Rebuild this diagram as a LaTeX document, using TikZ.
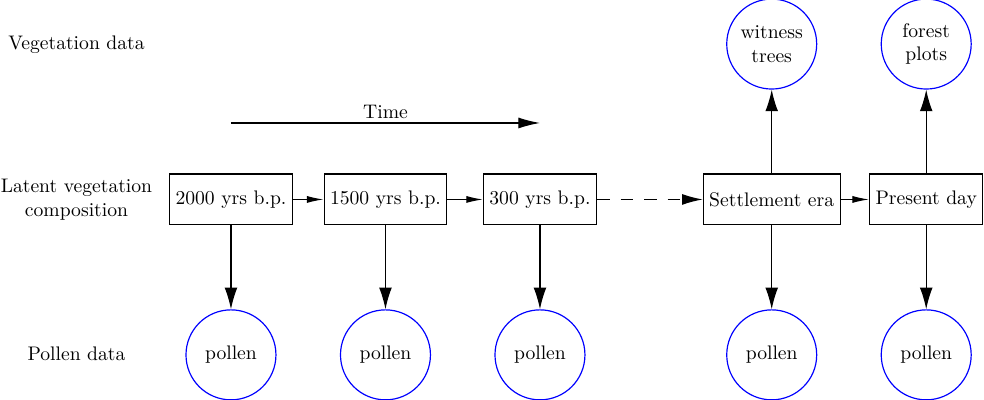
\documentclass[tikz,border=0pt]{standalone}
\usepackage{amsmath,amssymb}
\usepackage{xcolor}
\usepackage{tikz}
\usetikzlibrary{positioning, arrows.meta}

\begin{document}
\begin{tikzpicture}[
    x=2.765cm, y=2.765cm,
    node distance=1.5cm,
    era/.style={rectangle, draw=black, semithick, minimum width=1.2cm, minimum height=0.91cm, inner sep=3pt, align=center},
    obs/.style={circle, draw=blue, semithick, minimum size=1.61cm, inner sep=0pt, align=center},
    rowlabel/.style={align=center},
    arrow/.style={-{Latex[length=11pt, width=6.5pt]}, semithick},
    smallarrow/.style={-{Latex[length=8.5pt, width=3.6pt]}, semithick},
    gaparrow/.style={-{Latex[length=10.5pt, width=5.5pt]}, semithick, dash pattern=on 6.5pt off 5.5pt}
]
    \useasboundingbox (-1.495,-1.298) rectangle (4.874,1.291);

    % Row labels
    \node[rowlabel] (veglab) at (-1.0,1.0) {Vegetation data};
    \node[rowlabel] (latlab) at (-1.0,0) {Latent vegetation\\composition};
    \node[rowlabel] (pollab) at (-1.0,-1.0) {Pollen data};

    % Latent states
    \node[era] (y2000) at (0,0) {2000 yrs b.p.};
    \node[era] (y1500) at (1,0) {1500 yrs b.p.};
    \node[era] (y300) at (2,0) {300 yrs b.p.};
    \node[era] (settle) at (3.5,0) {Settlement era};
    \node[era] (present) at (4.5,0) {Present day};

    % Observations
    \node[obs, below=of y2000] (p2000) {pollen};
    \node[obs, below=of y1500] (p1500) {pollen};
    \node[obs, below=of y300] (p300) {pollen};
    \node[obs, below=of settle] (psettle) {pollen};
    \node[obs, below=of present] (ppresent) {pollen};
    \node[obs, above=of settle] (witness) {witness\\trees};
    \node[obs, above=of present] (forest) {forest\\plots};

    % Time axis
    \coordinate (tstart) at (0,0.495);
    \coordinate (tend) at (2,0.495);
    \draw[-{Latex[length=11pt, width=5.6pt]}, semithick] (tstart) -- (tend) node[midway, above, inner sep=2pt] (time) {Time};

    % Arrows
    \draw[smallarrow] (y2000) -- (y1500);
    \draw[smallarrow] (y1500) -- (y300);
    \draw[gaparrow] (y300) -- (settle);
    \draw[smallarrow] (settle) -- (present);
    \draw[arrow] (y2000) -- (p2000);
    \draw[arrow] (y1500) -- (p1500);
    \draw[arrow] (y300) -- (p300);
    \draw[arrow] (settle) -- (psettle);
    \draw[arrow] (present) -- (ppresent);
    \draw[arrow] (settle) -- (witness);
    \draw[arrow] (present) -- (forest);

\end{tikzpicture}
\end{document}
